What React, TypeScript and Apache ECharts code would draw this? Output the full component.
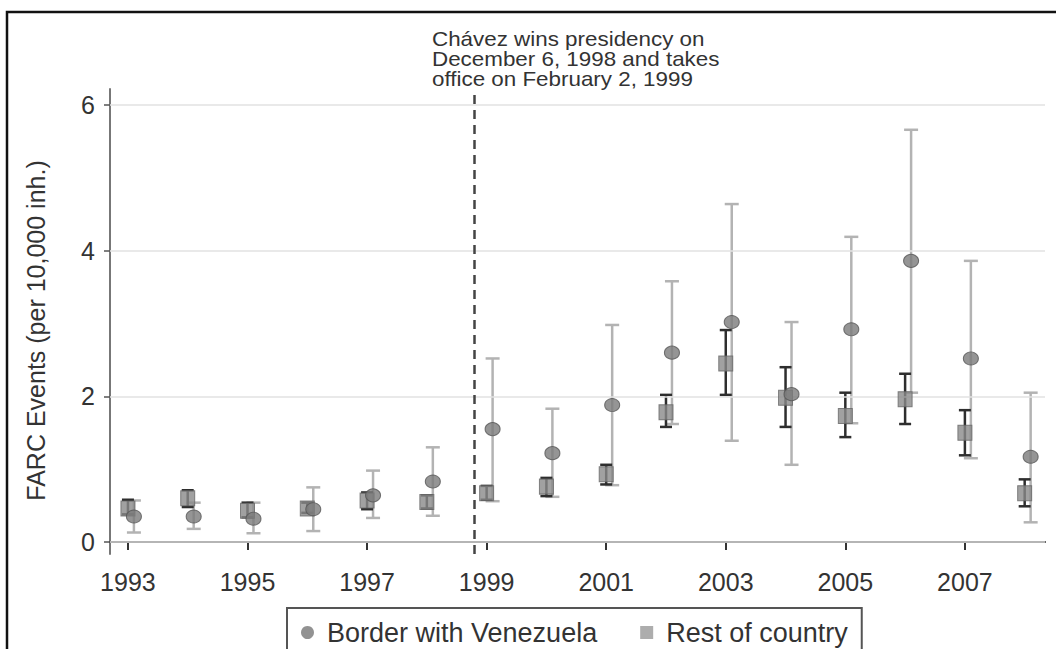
import React, { useEffect, useRef } from "react";
import * as echarts from "echarts";

const years = [1993, 1994, 1995, 1996, 1997, 1998, 1999, 2000, 2001, 2002, 2003, 2004, 2005, 2006, 2007, 2008];
const borderMean = [0.35, 0.35, 0.32, 0.45, 0.64, 0.83, 1.55, 1.22, 1.88, 2.60, 3.02, 2.03, 2.92, 3.86, 2.52, 1.17];
const borderLow = [0.13, 0.18, 0.12, 0.15, 0.33, 0.36, 0.56, 0.62, 0.78, 1.62, 1.39, 1.06, 1.63, 2.05, 1.15, 0.27];
const borderHigh = [0.57, 0.54, 0.54, 0.75, 0.98, 1.30, 2.52, 1.83, 2.98, 3.58, 4.64, 3.02, 4.19, 5.66, 3.86, 2.05];
const restMean = [0.46, 0.60, 0.43, 0.46, 0.57, 0.55, 0.67, 0.76, 0.93, 1.78, 2.45, 1.98, 1.73, 1.96, 1.50, 0.67];
const restLow = [0.38, 0.48, 0.34, 0.40, 0.45, 0.46, 0.58, 0.63, 0.79, 1.58, 2.02, 1.58, 1.44, 1.62, 1.19, 0.49];
const restHigh = [0.58, 0.71, 0.54, 0.54, 0.68, 0.64, 0.77, 0.88, 1.06, 2.02, 2.91, 2.40, 2.05, 2.31, 1.81, 0.86];
const xTicks = [1993, 1995, 1997, 1999, 2001, 2003, 2005, 2007];
const yTicks = [0, 2, 4, 6];
const borderOffset = 0.1;
const chavezLine = 1998.8;
const seriesNames = ["Border with Venezuela", "Rest of country"];
const yTitle = "FARC Events (per 10,000 inh.)";
const annotation = "Chávez wins presidency on\nDecember 6, 1998 and takes\noffice on February 2, 1999";

const FONT = "'Liberation Sans', Arial, Helvetica, sans-serif";

function errorBars(color: string, width: number, halfCap: number) {
  return (params: any, api: any) => {
    const x = api.value(0);
    const lo = api.value(1);
    const hi = api.value(2);
    const top = api.coord([x, hi]);
    const bot = api.coord([x, lo]);
    const style = { stroke: color, lineWidth: width };
    return {
      type: "group",
      children: [
        { type: "line", shape: { x1: top[0], y1: top[1], x2: bot[0], y2: bot[1] }, style },
        { type: "line", shape: { x1: top[0] - halfCap, y1: top[1], x2: top[0] + halfCap, y2: top[1] }, style },
        { type: "line", shape: { x1: bot[0] - halfCap, y1: bot[1], x2: bot[0] + halfCap, y2: bot[1] }, style },
      ],
    };
  };
}

export default function App() {
  const ref = useRef<HTMLDivElement>(null);
  useEffect(() => {
    if (!ref.current) return;
    const chart = echarts.init(ref.current, null, { renderer: "svg" });
    const borderCI = years.map((y, i) => [y + borderOffset, borderLow[i], borderHigh[i]]);
    const restCI = years.map((y, i) => [y, restLow[i], restHigh[i]]);
    const borderPts = years.map((y, i) => [y + borderOffset, borderMean[i]]);
    const restPts = years.map((y, i) => [y, restMean[i]]);
    chart.setOption({
      animation: false,
      backgroundColor: "#ffffff",
      textStyle: { fontFamily: FONT },
      grid: { left: 110, right: 11, top: 89, bottom: 95, containLabel: false },
      xAxis: {
        type: "value",
        min: 1992.7,
        max: 2008.34,
        axisLine: { show: true, lineStyle: { color: "#333", width: 2 } },
        axisTick: { show: true, customValues: xTicks, length: 8, lineStyle: { color: "#333", width: 2 } },
        axisLabel: {
          customValues: xTicks,
          formatter: (v: number) => String(v),
          fontSize: 25,
          color: "#333",
          margin: 15,
          fontFamily: FONT,
        },
        splitLine: { show: false },
      },
      yAxis: {
        type: "value",
        min: -0.165,
        max: 6.22,
        name: yTitle,
        nameLocation: "middle",
        nameGap: 62,
        nameTextStyle: { fontSize: 25, color: "#333", fontFamily: FONT, padding: [0, 18, 0, 0] },
        axisLine: { show: true, lineStyle: { color: "#777", width: 2 } },
        axisTick: { show: true, customValues: yTicks, length: 6, lineStyle: { color: "#555", width: 1.5 } },
        axisLabel: {
          customValues: yTicks,
          formatter: (v: number) => String(v),
          fontSize: 25,
          color: "#333",
          margin: 15,
          fontFamily: FONT,
        },
        splitLine: { show: false },
      },
      legend: {
        left: 287,
        top: 608,
        orient: "horizontal",
        padding: [11, 14, 30, 14],
        borderColor: "#555",
        borderWidth: 2,
        itemWidth: 13,
        itemHeight: 13,
        itemGap: 43,
        data: [
          { name: seriesNames[0], icon: "circle", itemStyle: { color: "#777", borderWidth: 0 } },
          { name: seriesNames[1], icon: "rect", itemStyle: { color: "#999", borderWidth: 0 } },
        ],
        textStyle: { fontSize: 27, color: "#333", fontFamily: FONT, padding: [0, 0, 0, 8] },
      },
      graphic: [
        {
          type: "rect",
          shape: { x: 7, y: 12, width: 1080, height: 700 },
          style: { fill: "none", stroke: "#111", lineWidth: 2.5 },
          silent: true,
          z: 100,
        },
        {
          type: "text",
          x: 432,
          y: 29,
          scaleX: 1.12,
          style: {
            text: annotation,
            fontSize: 20,
            lineHeight: 20,
            fill: "#333",
            fontFamily: FONT,
          },
        },
      ],
      series: [
        {
          type: "line",
          data: [],
          silent: true,
          markLine: {
            silent: true,
            symbol: "none",
            label: { show: false },
            lineStyle: { color: "#e2e2e2", width: 1.5, type: "solid" },
            data: yTicks.map((v) => ({ yAxis: v })),
          },
        },
        {
          type: "line",
          data: [],
          silent: true,
          markLine: {
            silent: true,
            symbol: "none",
            label: { show: false },
            lineStyle: { color: "#444", width: 2.5, type: [9, 6] },
            data: [{ xAxis: chavezLine }],
          },
        },
        {
          name: seriesNames[0] + " CI",
          type: "custom",
          renderItem: errorBars("#b3b3b3", 2.5, 7),
          encode: { x: 0, y: [1, 2] },
          data: borderCI,
          z: 3,
        },
        {
          name: seriesNames[1] + " CI",
          type: "custom",
          renderItem: errorBars("#2e2e2e", 2.5, 6),
          encode: { x: 0, y: [1, 2] },
          data: restCI,
          z: 4,
        },
        {
          name: seriesNames[1],
          type: "scatter",
          symbol: "rect",
          symbolSize: [14, 15],
          itemStyle: { color: "#8a8a8a", borderColor: "#666", borderWidth: 1 },
          data: restPts,
          z: 5,
        },
        {
          name: seriesNames[0],
          type: "scatter",
          symbol: "circle",
          symbolSize: [15, 13],
          itemStyle: { color: "#7a7a7a", borderColor: "#555", borderWidth: 1 },
          data: borderPts,
          z: 6,
        },
      ],
    });
    return () => chart.dispose();
  }, []);
  return (
    <div
      ref={ref}
      style={{ position: "fixed", left: 0, top: 0, width: 1056, height: 649, background: "#fff" }}
    />
  );
}
